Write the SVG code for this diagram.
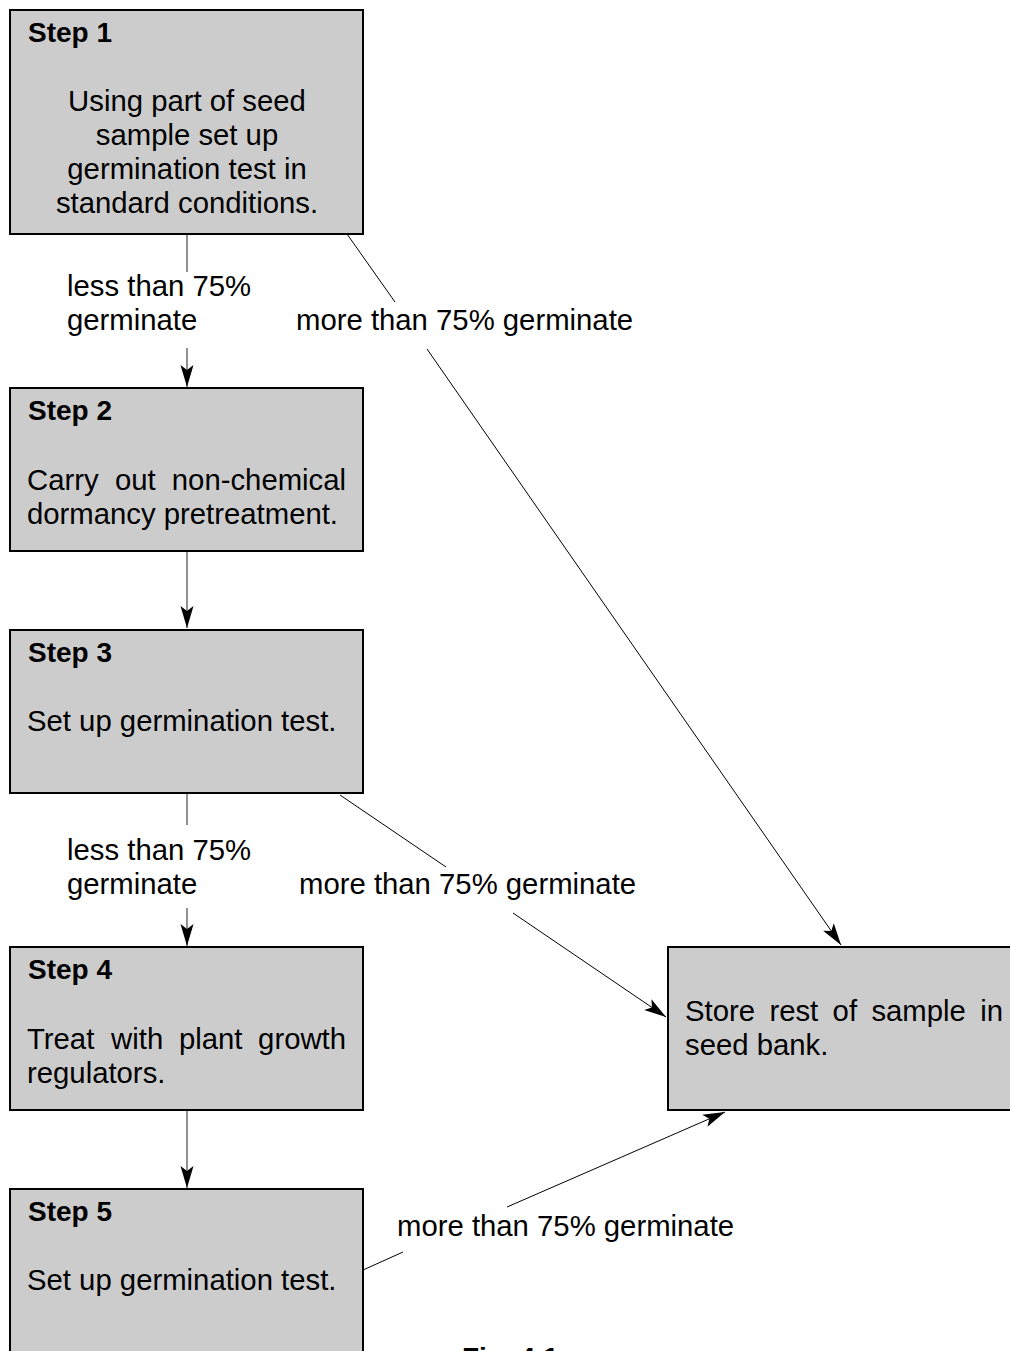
<svg xmlns="http://www.w3.org/2000/svg" width="1010" height="1351" viewBox="0 0 1010 1351">
<style>
.box{fill:#cccccc;stroke:#000;stroke-width:2}
.t{font-family:"Liberation Sans",Arial,sans-serif;font-size:29.3px;fill:#000}
.h{font-family:"Liberation Sans",Arial,sans-serif;font-size:28px;font-weight:bold;fill:#000}
.v{stroke:#555;stroke-width:1.3;fill:none}
.d{stroke:#000;stroke-width:1;fill:none}
</style>
<defs>
<marker id="ah" markerUnits="userSpaceOnUse" markerWidth="24" markerHeight="14" viewBox="0 0 24 14" refX="22" refY="7" orient="auto">
<path d="M0,0.5 L22,7 L0,13.5 L5,7 z" fill="#000"/>
</marker>
</defs>
<rect width="1010" height="1351" fill="#fff"/>
<g id="connectors">
<line class="v" x1="187" y1="235" x2="187" y2="272"/>
<line class="v" x1="187" y1="348" x2="187" y2="387" marker-end="url(#ah)"/>
<line class="v" x1="187" y1="552" x2="187" y2="628" marker-end="url(#ah)"/>
<line class="v" x1="187" y1="794" x2="187" y2="825"/>
<line class="v" x1="187" y1="908" x2="187" y2="946" marker-end="url(#ah)"/>
<line class="v" x1="187" y1="1111" x2="187" y2="1188" marker-end="url(#ah)"/>
<line class="d" x1="347" y1="234" x2="395" y2="302"/>
<line class="d" x1="427" y1="349" x2="841" y2="945" marker-end="url(#ah)"/>
<line class="d" x1="340" y1="795" x2="446" y2="867"/>
<line class="d" x1="513" y1="913" x2="666" y2="1017" marker-end="url(#ah)"/>
<line class="d" x1="363" y1="1270" x2="403" y2="1252"/>
<line class="d" x1="507" y1="1207" x2="725" y2="1112" marker-end="url(#ah)"/>
<text class="t" x="67" y="296">less than 75%</text>
<text class="t" x="67" y="330">germinate</text>
<text class="t" x="296" y="330">more than 75% germinate</text>
<text class="t" x="67" y="860">less than 75%</text>
<text class="t" x="67" y="894">germinate</text>
<text class="t" x="299" y="894">more than 75% germinate</text>
<text class="t" x="397" y="1236">more than 75% germinate</text>
</g>
<g id="step1">
<rect class="box" x="10" y="10" width="353" height="224"/>
<text class="h" x="28" y="42">Step 1</text>
<text class="t" x="187" y="111" text-anchor="middle">Using part of seed</text>
<text class="t" x="187" y="145" text-anchor="middle">sample set up</text>
<text class="t" x="187" y="179" text-anchor="middle">germination test in</text>
<text class="t" x="187" y="213" text-anchor="middle">standard conditions.</text>
</g>
<g id="step2">
<rect class="box" x="10" y="388" width="353" height="163"/>
<text class="h" x="28" y="420">Step 2</text>
<text class="t" y="490"><tspan x="27">Carry</tspan><tspan x="114.9">out</tspan><tspan x="171.8">non-chemical</tspan></text>
<text class="t" x="27" y="524">dormancy pretreatment.</text>
</g>
<g id="step3">
<rect class="box" x="10" y="630" width="353" height="163"/>
<text class="h" x="28" y="662">Step 3</text>
<text class="t" x="27" y="731">Set up germination test.</text>
</g>
<g id="step4">
<rect class="box" x="10" y="947" width="353" height="163"/>
<text class="h" x="28" y="979">Step 4</text>
<text class="t" y="1049"><tspan x="27">Treat</tspan><tspan x="111.1">with</tspan><tspan x="178.9">plant</tspan><tspan x="258.1">growth</tspan></text>
<text class="t" x="27" y="1083">regulators.</text>
</g>
<g id="step5">
<rect class="box" x="10" y="1189" width="353" height="180"/>
<text class="h" x="28" y="1221">Step 5</text>
<text class="t" x="27" y="1290">Set up germination test.</text>
</g>
<g id="store">
<rect class="box" x="668" y="947" width="350" height="163"/>
<text class="t" y="1021"><tspan x="685">Store</tspan><tspan x="769.4">rest</tspan><tspan x="832.6">of</tspan><tspan x="871.4">sample</tspan><tspan x="980.2">in</tspan></text>
<text class="t" x="685" y="1055">seed bank.</text>
</g>
<g id="caption">
<text class="h" x="462" y="1367">Fig. 4.1</text>
</g>
</svg>
